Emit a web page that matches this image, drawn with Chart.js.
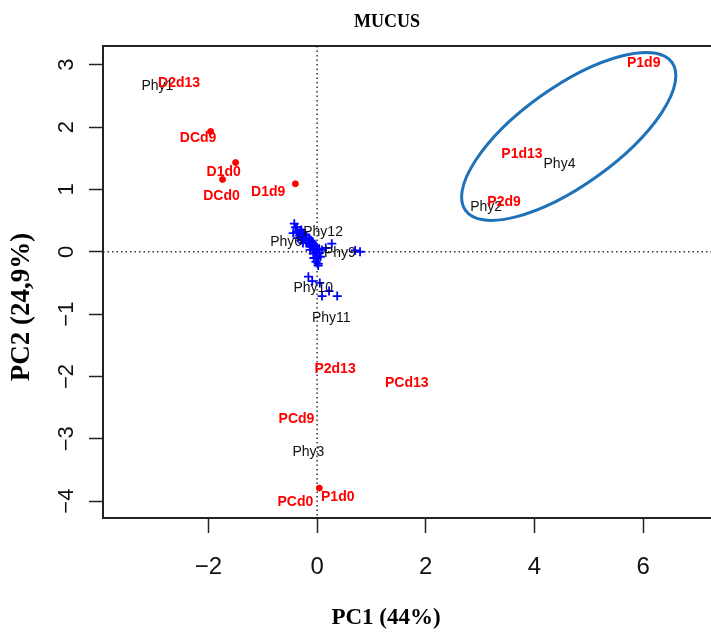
<!DOCTYPE html>
<html>
<head>
<meta charset="utf-8">
<script src="https://cdn.jsdelivr.net/npm/chart.js"></script>
<style>
  html, body { margin: 0; padding: 0; background: #fff; overflow: hidden; }
  .wrap { width: 725px; height: 638px; }
</style>
</head>
<body>
<div class="wrap"><canvas id="pca"></canvas></div>
<script>
// samples (red labels)
var sampleNames = ['D2d13', 'DCd9', 'D1d0', 'DCd0', 'D1d9', 'P1d9', 'P1d13', 'P2d9', 'P2d13', 'PCd13', 'PCd9', 'PCd0', 'P1d0'];
var sampleX = [-2.54, -2.19, -1.72, -1.76, -0.90, 6.01, 3.77, 3.44, 0.33, 1.65, -0.38, -0.40, 0.38];
var sampleY = [2.71, 1.83, 1.27, 0.90, 0.95, 3.02, 1.56, 0.79, -1.89, -2.10, -2.68, -4.01, -3.93];

// phyla (black labels)
var phyNames = ['Phy1', 'Phy2', 'Phy3', 'Phy4', 'Phy6', 'Phy9', 'Phy10', 'Phy11', 'Phy12'];
var phyX = [-2.94, 3.11, -0.16, 4.46, -0.57, 0.42, -0.07, 0.26, 0.11];
var phyY = [2.65, 0.71, -3.21, 1.40, 0.16, -0.03, -0.58, -1.06, 0.32];

// blue crosses near the origin
var crossX = [-0.40, -0.37, -0.31, -0.27, -0.24, -0.20, -0.16, -0.13, -0.11, -0.07, -0.05, -0.02, 0.00, 0.00, -0.02, 0.02,
  -0.29, -0.22, -0.15, -0.09, -0.04, 0.04, 0.09, 0.16, -0.26, -0.35, -0.44,
  -0.37, -0.31, -0.26, -0.20, -0.15, -0.11, -0.07, -0.04, 0.00, 0.04, 0.06, -0.06, -0.33, -0.28, -0.20, -0.13, -0.07, 0.02,
  0.79, 0.70, 0.27, -0.42, -0.16, -0.09, 0.05, 0.22, 0.37, 0.09];
var crossY = [0.39, 0.32, 0.29, 0.24, 0.22, 0.19, 0.14, 0.11, 0.08, 0.05, 0.02, -0.02, -0.06, -0.11, -0.16, -0.19,
  0.35, 0.27, 0.21, 0.16, 0.10, 0.05, 0.03, 0.06, 0.14, 0.22, 0.30,
  0.39, 0.34, 0.30, 0.26, 0.22, 0.18, 0.13, 0.08, 0.03, -0.02, -0.08, -0.10, 0.26, 0.19, 0.14, 0.03, -0.03, -0.22,
  0.00, 0.02, 0.13, 0.45, -0.40, -0.47, -0.50, -0.63, -0.71, -0.71];

// small red points
var dotX = [-1.96, -1.50, -1.74, -0.40, 0.04];
var dotY = [1.93, 1.43, 1.16, 1.09, -3.79];

var xTicks = [-2, 0, 2, 4, 6];
var yTicks = [-4, -3, -2, -1, 0, 1, 2, 3];

// cluster ring around the P1/P2 samples
var ring = { x: 4.63, y: 1.85, rx: 127, ry: 49, angle: -35.6 };

var serif = '"Liberation Serif", "Times New Roman", serif';
var sans = '"Liberation Sans", Arial, sans-serif';

function pts(xs, ys) {
  return xs.map(function (x, i) { return { x: x, y: ys[i] }; });
}

function minus(v) { return v < 0 ? '\u2212' + Math.abs(v) : String(v); }

var frame = {
  id: 'frame',
  beforeDatasetsDraw: function (chart) {
    var c = chart.ctx, a = chart.chartArea;
    var x0 = chart.scales.x.getPixelForValue(0);
    var y0 = chart.scales.y.getPixelForValue(0);
    c.save();
    c.strokeStyle = '#333';
    c.lineWidth = 1.5;
    c.setLineDash([1.5, 3]);
    c.beginPath();
    c.moveTo(x0, a.top); c.lineTo(x0, a.bottom);
    c.moveTo(a.left, y0); c.lineTo(a.right, y0);
    c.stroke();
    c.restore();
  },
  afterDatasetsDraw: function (chart) {
    var c = chart.ctx, a = chart.chartArea;
    // text labels on datasets that carry names
    chart.data.datasets.forEach(function (ds, i) {
      if (!ds.names) return;
      var meta = chart.getDatasetMeta(i);
      c.save();
      c.font = ds.labelFont;
      c.fillStyle = ds.labelColor;
      c.textAlign = 'center';
      c.textBaseline = 'middle';
      meta.data.forEach(function (el, j) {
        c.fillText(ds.names[j], el.x, el.y);
      });
      c.restore();
    });
    c.save();
    // ellipse
    c.strokeStyle = '#1f72b8';
    c.lineWidth = 3;
    c.beginPath();
    c.ellipse(chart.scales.x.getPixelForValue(ring.x), chart.scales.y.getPixelForValue(ring.y),
      ring.rx, ring.ry, ring.angle * Math.PI / 180, 0, Math.PI * 2);
    c.stroke();
    // box
    c.strokeStyle = '#222';
    c.lineWidth = 2;
    c.strokeRect(a.left, a.top, a.right - a.left, a.bottom - a.top);
    // titles
    c.fillStyle = '#000';
    c.textAlign = 'center';
    c.textBaseline = 'middle';
    c.font = 'bold 18px ' + serif;
    c.fillText('MUCUS', 387, 22);
    c.font = 'bold 23px ' + serif;
    c.fillText('PC1 (44%)', 386, 618);
    c.translate(22, 307);
    c.rotate(-Math.PI / 2);
    c.font = 'bold 27px ' + serif;
    c.fillText('PC2 (24,9%)', 0, 0);
    c.restore();
  }
};

new Chart(document.getElementById('pca'), {
  type: 'scatter',
  data: {
    datasets: [
      {
        data: pts(crossX, crossY),
        pointStyle: 'cross',
        pointRadius: 4.5,
        borderColor: '#0000ff',
        borderWidth: 1.8
      },
      {
        data: pts(dotX, dotY),
        pointRadius: 3,
        backgroundColor: '#ff0000',
        borderColor: '#ff0000'
      },
      {
        data: pts(phyX, phyY),
        names: phyNames,
        labelFont: '14px ' + sans,
        labelColor: '#111',
        pointRadius: 0
      },
      {
        data: pts(sampleX, sampleY),
        names: sampleNames,
        labelFont: 'bold 14px ' + sans,
        labelColor: '#ff0000',
        pointRadius: 0
      }
    ]
  },
  options: {
    responsive: true,
    maintainAspectRatio: false,
    animation: false,
    layout: { padding: { top: 46 } },
    plugins: {
      legend: { display: false },
      tooltip: { enabled: false },
      title: { display: false }
    },
    scales: {
      x: {
        type: 'linear',
        min: -3.94,
        max: 7.39,
        afterFit: function (s) { s.height = 120; },
        afterBuildTicks: function (s) { s.ticks = xTicks.map(function (v) { return { value: v }; }); },
        grid: { drawOnChartArea: false, drawTicks: true, tickLength: 15, tickColor: '#222', tickWidth: 1.5, color: 'transparent' },
        border: { display: false },
        ticks: {
          color: '#111',
          padding: 20,
          font: { family: sans, size: 24 },
          callback: minus
        }
      },
      y: {
        type: 'linear',
        min: -4.27,
        max: 3.30,
        afterFit: function (s) { s.width = 103; },
        afterBuildTicks: function (s) { s.ticks = yTicks.map(function (v) { return { value: v }; }); },
        grid: { drawOnChartArea: false, drawTicks: true, tickLength: 14, tickColor: '#222', tickWidth: 1.5, color: 'transparent' },
        border: { display: false },
        ticks: {
          color: '#111',
          padding: 10,
          crossAlign: 'center',
          minRotation: 90,
          maxRotation: 90,
          font: { family: sans, size: 22 },
          callback: minus
        }
      }
    }
  },
  plugins: [frame]
});
</script>
</body>
</html>
